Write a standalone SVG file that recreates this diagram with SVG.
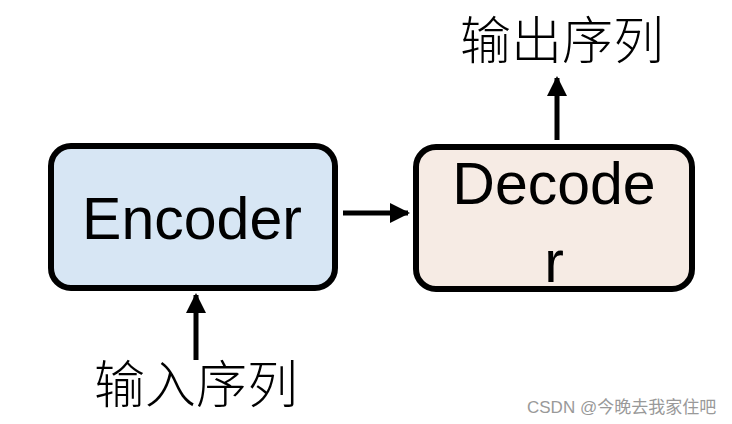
<svg xmlns="http://www.w3.org/2000/svg" width="732" height="424" viewBox="0 0 732 424">
<defs>
<marker id="ah" viewBox="0 0 10 10" refX="9" refY="5" markerWidth="4" markerHeight="4" markerUnits="strokeWidth" orient="auto">
<path d="M0,0 L10,5 L0,10 Z" fill="#000"/>
</marker>
</defs>
<style>
.box{stroke:#000;stroke-width:6}
.lbl{font-family:"Liberation Sans",Arial,sans-serif;font-size:59px;fill:#000;text-anchor:middle}
.cjk{font-family:"Noto Sans CJK SC","Noto Sans",sans-serif;font-size:51px;font-weight:300;fill:#000;text-anchor:middle}
.edge{stroke:#000;stroke-width:5;fill:none;marker-end:url(#ah)}
</style>
<rect width="732" height="424" fill="#fff"/>
<g id="encoder">
<rect class="box" x="51" y="146" width="284" height="142" rx="20" fill="#d7e6f4"/>
<text class="lbl" x="192" y="239">Encoder</text>
</g>
<g id="decoder">
<rect class="box" x="416" y="147" width="276" height="142" rx="20" fill="#f6ebe4"/>
<text class="lbl" x="554" y="204">Decode</text>
<text class="lbl" x="554" y="282">r</text>
</g>
<g id="input">
<text class="cjk" x="196" y="403">输入序列</text>
</g>
<g id="output">
<text class="cjk" x="562" y="59">输出序列</text>
</g>
<g id="connectors">
<line class="edge" x1="343" y1="213" x2="408" y2="213"/>
<line class="edge" x1="557" y1="140" x2="557" y2="78"/>
<line class="edge" x1="196" y1="360" x2="196" y2="295"/>
</g>
<text x="527" y="413" font-family="'Liberation Sans','Noto Sans CJK SC',sans-serif" font-size="17" fill="#999">CSDN @今晚去我家住吧</text>
</svg>
